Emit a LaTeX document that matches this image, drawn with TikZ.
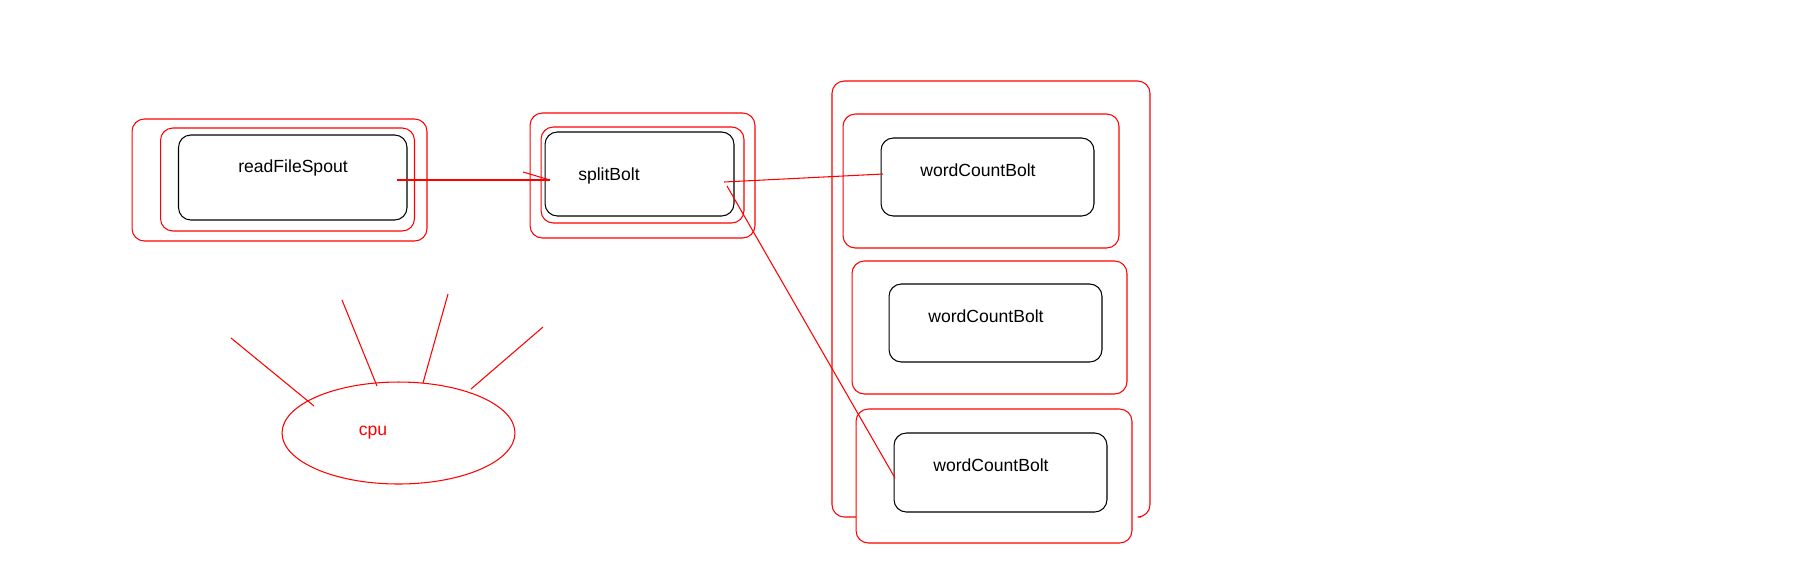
\documentclass[tikz,border=0pt]{standalone}
\usepackage{fontspec}
\setmainfont{Liberation Sans}
\usepackage{tikz}
\usetikzlibrary{shapes.geometric}

\tikzset{
    redbox/.style={draw=red, line width=0.6pt, rounded corners=7pt, inner sep=0pt},
    blackbox/.style={draw=black, line width=0.6pt, rounded corners=7pt, inner sep=0pt},
    wire/.style={red, line width=0.6pt},
    label/.style={font=\fontsize{10}{12}\selectfont, inner sep=0pt}
}

\begin{document}
\begin{tikzpicture}[x=0.02cm, y=-0.02cm]
        \useasboundingbox (0,0) rectangle (1794,576);

        % spout
        \node[redbox, minimum width=5.90cm, minimum height=2.44cm] (spoutout) at (279.5,180) {};
        \node[redbox, minimum width=5.08cm, minimum height=2.06cm] (spoutin) at (287.5,179.5) {};
        \node[blackbox, minimum width=4.57cm, minimum height=1.70cm] (spout) at (292.75,177.5) {};
        \node[label] (spouttext) at (293,168) {readFileSpout};

        % split bolt
        \node[redbox, minimum width=4.50cm, minimum height=2.50cm] (splitout) at (642.5,175.5) {};
        \node[redbox, minimum width=4.06cm, minimum height=1.92cm] (splitin) at (642.5,175) {};
        \node[blackbox, minimum width=3.78cm, minimum height=1.68cm] (split) at (639.5,174) {};
        \node[label] (splittext) at (609,176) {splitBolt};

        % column of word count bolts (bottom edge left open)
        \draw[red, line width=0.6pt, rounded corners=7pt]
            (856,517) -- (832,517) -- (832,81) -- (1150,81) -- (1150,517) -- (1141,517);

        \node[redbox, minimum width=5.52cm, minimum height=2.68cm] (countout1) at (981,181) {};
        \node[blackbox, minimum width=4.26cm, minimum height=1.56cm] (count1) at (987.5,177) {};
        \node[label] (counttext1) at (978,170) {wordCountBolt};

        \node[redbox, minimum width=5.50cm, minimum height=2.66cm] (countout2) at (989.5,327.5) {};
        \node[blackbox, minimum width=4.26cm, minimum height=1.56cm] (count2) at (995.5,323) {};
        \node[label] (counttext2) at (986,316) {wordCountBolt};

        \node[redbox, fill=white, minimum width=5.52cm, minimum height=2.68cm] (countout3) at (994,476) {};
        \node[blackbox, minimum width=4.26cm, minimum height=1.58cm] (count3) at (1000.5,472.5) {};
        \node[label] (counttext3) at (991,465) {wordCountBolt};

        % cpu
        \node[draw=red, line width=0.6pt, ellipse, inner sep=0pt, minimum width=4.66cm, minimum height=2.04cm] (cpu) at (398.5,433) {};
        \node[label, text=red] (cputext) at (373,433) {cpu};

        \coordinate (s1) at (397,180);
        \coordinate (e1) at (550,180);
        \coordinate (t1) at (523,172);
        \coordinate (s2) at (724,182);
        \coordinate (e2) at (883,174);
        \coordinate (s3) at (727,186);
        \coordinate (e3) at (895,478);

        \draw[wire] (s1) -- (e1);
        \draw[wire] (t1) -- (e1);
        \draw[wire] (s2) -- (e2);
        \draw[wire] (s3) -- (e3);

        % rays above the cpu
        \coordinate (r1) at (231,338); \coordinate (c1) at (314,406);
        \coordinate (r2) at (342,300); \coordinate (c2) at (377,386);
        \coordinate (r3) at (448,294); \coordinate (c3) at (423,383);
        \coordinate (r4) at (543,327); \coordinate (c4) at (471,389);

        \draw[wire] (r1) -- (c1);
        \draw[wire] (r2) -- (c2);
        \draw[wire] (r3) -- (c3);
        \draw[wire] (r4) -- (c4);
    \end{tikzpicture}
\end{document}
